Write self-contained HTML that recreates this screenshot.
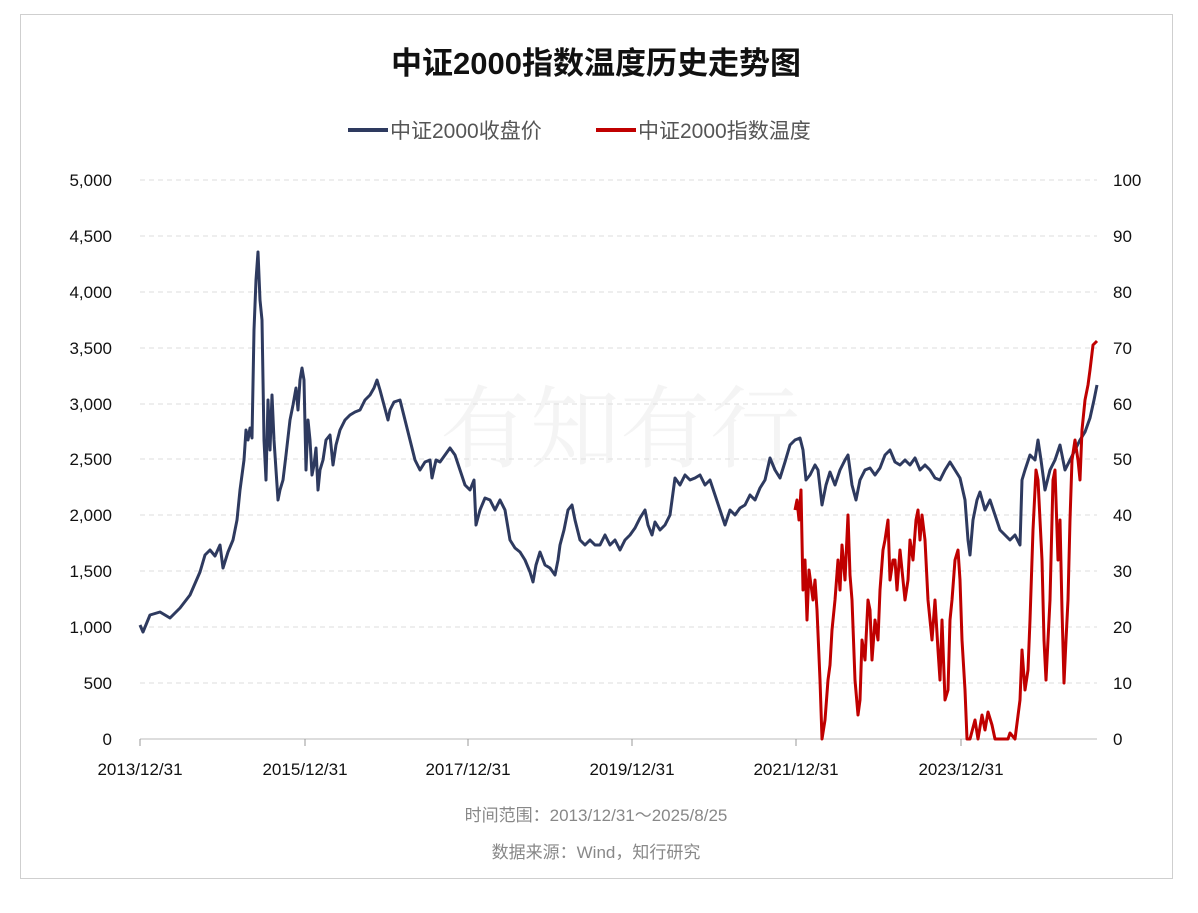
<!DOCTYPE html>
<html><head><meta charset="utf-8"><style>
body{margin:0;background:#fff;width:1198px;height:908px;overflow:hidden;font-family:"Liberation Sans","Noto Sans CJK SC",sans-serif}
</style></head><body>
<svg width="1198" height="908" xmlns="http://www.w3.org/2000/svg" font-family="Liberation Sans, Noto Sans CJK SC, sans-serif">
<rect x="20.5" y="14.5" width="1152" height="864" fill="#fff" stroke="#cfcfcf"/>
<text x="596" y="74" font-size="31" font-weight="bold" text-anchor="middle" fill="#111">中证2000指数温度历史走势图</text>
<line x1="348" y1="130" x2="388" y2="130" stroke="#2e3a5f" stroke-width="4"/>
<text x="390" y="138" font-size="21" fill="#555">中证2000收盘价</text>
<line x1="596" y1="130" x2="636" y2="130" stroke="#c00000" stroke-width="4"/>
<text x="638" y="138" font-size="21" fill="#555">中证2000指数温度</text>
<text x="620" y="460" font-size="90" fill="#000" opacity="0.04" text-anchor="middle" font-family="Noto Serif CJK SC, serif">有知有行</text>
<g stroke="#dedede" stroke-dasharray="5,4">
<line x1="140" x2="1097" y1="180" y2="180"/><line x1="140" x2="1097" y1="236" y2="236"/><line x1="140" x2="1097" y1="292" y2="292"/><line x1="140" x2="1097" y1="348" y2="348"/><line x1="140" x2="1097" y1="404" y2="404"/><line x1="140" x2="1097" y1="459" y2="459"/><line x1="140" x2="1097" y1="515" y2="515"/><line x1="140" x2="1097" y1="571" y2="571"/><line x1="140" x2="1097" y1="627" y2="627"/><line x1="140" x2="1097" y1="683" y2="683"/>
</g>
<line x1="140" x2="1097" y1="739" y2="739" stroke="#bbb"/>
<g stroke="#999"><line x1="140" x2="140" y1="739" y2="746"/><line x1="305" x2="305" y1="739" y2="746"/><line x1="468" x2="468" y1="739" y2="746"/><line x1="632" x2="632" y1="739" y2="746"/><line x1="796" x2="796" y1="739" y2="746"/><line x1="961" x2="961" y1="739" y2="746"/></g>
<g font-size="17" fill="#111" text-anchor="end">
<text x="112" y="186">5,000</text><text x="112" y="242">4,500</text><text x="112" y="298">4,000</text><text x="112" y="354">3,500</text><text x="112" y="410">3,000</text><text x="112" y="465">2,500</text><text x="112" y="521">2,000</text><text x="112" y="577">1,500</text><text x="112" y="633">1,000</text><text x="112" y="689">500</text><text x="112" y="745">0</text>
</g>
<g font-size="17" fill="#111">
<text x="1113" y="186">100</text><text x="1113" y="242">90</text><text x="1113" y="298">80</text><text x="1113" y="354">70</text><text x="1113" y="410">60</text><text x="1113" y="465">50</text><text x="1113" y="521">40</text><text x="1113" y="577">30</text><text x="1113" y="633">20</text><text x="1113" y="689">10</text><text x="1113" y="745">0</text>
</g>
<g font-size="17" fill="#111" text-anchor="middle">
<text x="140" y="775">2013/12/31</text><text x="305" y="775">2015/12/31</text><text x="468" y="775">2017/12/31</text><text x="632" y="775">2019/12/31</text><text x="796" y="775">2021/12/31</text><text x="961" y="775">2023/12/31</text>
</g>
<polyline fill="none" stroke="#2e3a5f" stroke-width="3" stroke-linejoin="round" points="140,625 143,632 150,615 160,612 170,618 180,608 190,595 200,572 205,555 210,550 215,556 220,545 223,568 228,552 233,540 237,520 240,490 244,460 246,430 248,440 250,428 252,438 254,330 256,280 258,252 260,300 262,320 264,440 266,480 268,400 270,450 272,395 274,440 276,470 278,500 280,490 283,480 286,455 290,420 293,405 296,388 298,410 300,380 302,368 304,380 306,470 308,420 310,440 312,475 314,465 316,448 318,490 320,470 323,460 326,440 330,435 333,465 336,445 340,430 345,420 350,415 355,412 360,410 365,400 370,395 374,388 377,380 380,390 384,405 388,420 390,410 394,402 400,400 405,420 410,440 415,460 420,470 425,462 430,460 432,478 436,460 440,462 445,455 450,448 455,455 460,470 465,485 470,490 474,480 476,525 480,510 485,498 490,500 495,510 500,500 505,510 510,540 515,548 520,552 525,560 530,572 533,582 536,565 540,552 545,565 550,568 555,575 558,560 560,545 564,530 568,510 572,505 575,520 580,540 585,545 590,540 595,545 600,545 605,535 610,545 615,540 620,550 625,540 630,535 635,528 640,518 645,510 648,525 652,535 655,522 660,530 665,525 670,515 675,478 680,485 685,475 690,480 695,478 700,475 705,485 710,480 715,495 720,510 725,525 730,510 735,515 740,508 745,505 750,495 755,500 760,488 765,480 770,458 775,470 780,478 785,462 790,445 795,440 800,438 803,450 806,480 810,475 815,465 818,470 822,505 826,485 830,472 835,485 840,470 845,460 848,455 852,485 856,500 860,480 865,470 870,468 875,475 880,468 885,455 890,450 895,462 900,465 905,460 910,465 915,458 920,470 925,465 930,470 935,478 940,480 945,470 950,462 955,470 960,478 965,500 968,540 970,555 973,520 977,500 980,492 985,510 990,500 995,515 1000,530 1005,535 1010,540 1015,535 1020,545 1022,480 1025,470 1030,455 1035,460 1038,440 1041,460 1045,490 1050,470 1055,460 1060,445 1065,470 1070,460 1075,450 1080,440 1085,432 1090,418 1094,400 1097,385"/>
<polyline fill="none" stroke="#c00000" stroke-width="3" stroke-linejoin="round" points="795,510 797,500 799,520 801,490 803,590 805,560 807,620 809,570 811,585 813,600 815,580 817,610 820,680 822,739 825,720 828,680 830,665 832,630 835,600 838,560 840,590 842,545 845,580 848,515 850,575 852,600 855,680 858,715 860,700 862,640 865,660 868,600 870,610 872,660 875,620 878,640 880,590 883,550 885,540 888,520 890,580 893,560 895,560 897,590 900,550 903,580 905,600 908,580 910,540 913,560 916,520 918,510 920,540 922,515 925,540 928,600 930,620 932,640 935,600 938,650 940,680 942,620 945,700 948,690 950,620 952,600 955,560 958,550 960,580 962,640 965,690 967,739 970,739 975,720 978,739 982,715 985,730 988,712 992,725 995,739 1000,739 1008,739 1010,733 1015,739 1020,700 1022,650 1025,690 1028,670 1030,620 1033,530 1036,470 1038,480 1040,520 1042,560 1044,640 1046,680 1048,640 1050,600 1053,480 1055,470 1058,560 1060,520 1062,610 1064,683 1066,640 1068,600 1070,520 1072,460 1075,440 1078,460 1080,480 1082,430 1085,400 1088,385 1090,370 1093,345 1097,341"/>
<text x="596" y="821" font-size="17" fill="#888" text-anchor="middle">时间范围：2013/12/31～2025/8/25</text>
<text x="596" y="858" font-size="17" fill="#888" text-anchor="middle">数据来源：Wind，知行研究</text>
</svg>
</body></html>
